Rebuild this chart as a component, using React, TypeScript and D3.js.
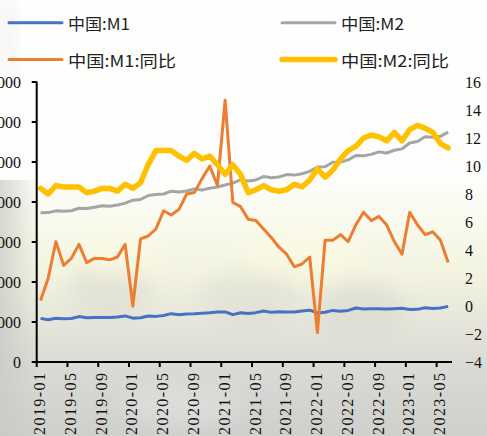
import React from 'react';
import * as d3 from 'd3';

const years = [2019, 2020, 2021, 2022, 2023];
const monthsPerYear = [12, 12, 12, 12, 6];

const m1 = [545638, 527190, 547575, 540614, 544355, 567696, 553043, 557138, 557137, 555208, 563262, 576009,
  548300, 552700, 575100, 570200, 581100, 604300, 591200, 601300, 602300, 609200, 616300, 625600,
  625600, 592200, 616100, 605400, 616800, 637500, 620500, 628500, 624500, 626100, 637500, 647400,
  613800, 621600, 645100, 633600, 645100, 674400, 661800, 664600, 664500, 662100, 667000, 671700,
  655200, 657900, 678100, 669800, 675300, 695600];

const m2 = [1865935, 1867427, 1889412, 1884670, 1891154, 1921360, 1919411, 1935492, 1952250, 1945601, 1961430, 1986489,
  2023066, 2030830, 2080923, 2093534, 2100184, 2134949, 2125458, 2136837, 2164085, 2149720, 2172003, 2186796,
  2213051, 2236030, 2276488, 2262131, 2275538, 2317788, 2302153, 2312251, 2342830, 2336160, 2353589, 2382900,
  2437400, 2441500, 2497700, 2499700, 2527000, 2581500, 2578100, 2595100, 2626600, 2612900, 2647100, 2664300,
  2738100, 2755200, 2814600, 2808500, 2820500, 2873000];

const m1yoy = [0.4, 2.0, 4.6, 2.9, 3.4, 4.4, 3.1, 3.4, 3.4, 3.3, 3.5, 4.4,
  0.0, 4.8, 5.0, 5.5, 6.8, 6.5, 6.9, 8.0, 8.1, 9.1, 10.0, 8.6,
  14.7, 7.4, 7.1, 6.2, 6.1, 5.5, 4.9, 4.2, 3.7, 2.8, 3.0, 3.5,
  -1.9, 4.7, 4.7, 5.1, 4.6, 5.8, 6.7, 6.1, 6.4, 5.8, 4.6, 3.7,
  6.7, 5.8, 5.1, 5.3, 4.7, 3.1];

const m2yoy = [8.4, 8.0, 8.6, 8.5, 8.5, 8.5, 8.1, 8.2, 8.4, 8.4, 8.2, 8.7,
  8.4, 8.8, 10.1, 11.1, 11.1, 11.1, 10.7, 10.4, 10.9, 10.5, 10.7, 10.1,
  9.4, 10.1, 9.4, 8.1, 8.3, 8.6, 8.3, 8.2, 8.3, 8.7, 8.5, 9.0,
  9.8, 9.2, 9.7, 10.5, 11.1, 11.4, 12.0, 12.2, 12.1, 11.8, 12.4, 11.8,
  12.6, 12.9, 12.7, 12.4, 11.6, 11.3];

const leftTicks = [0, 500000, 1000000, 1500000, 2000000, 2500000, 3000000, 3500000];
const rightTicks = [-4, -2, 0, 2, 4, 6, 8, 10, 12, 14, 16];

const seriesNames = ['中国:M1', '中国:M2', '中国:M1:同比', '中国:M2:同比'];
const seriesColors = ['#4472C4', '#A5A5A5', '#ED7D31', '#FFC000'];

const categories: string[] = [];
years.forEach((y, k) => {
  for (let m = 1; m <= monthsPerYear[k]; m++) categories.push(`${y}-${String(m).padStart(2, '0')}`);
});

const W = 487, H = 436;
const X0 = 36.7, X1 = 452, YB = 362, YT = 82;
const serif = '"Liberation Serif", "Times New Roman", serif';
const cjk = '"Noto Sans CJK SC", "Noto Sans", sans-serif';

export default function App() {
  const x = d3.scaleBand<string>().domain(categories).range([X0, X1]).padding(0);
  const bw = x.bandwidth();
  const cx = (i: number) => (x(categories[i]) as number) + bw / 2;
  const yL = d3.scaleLinear().domain([0, 3500000]).range([YB, YT]);
  const yR = d3.scaleLinear().domain([-4, 16]).range([YB, YT]);

  const lineL = d3.line<number>().x((_, i) => cx(i)).y(d => yL(d));
  const lineR = d3.line<number>().x((_, i) => cx(i)).y(d => yR(d));

  const tickCats = categories.filter((_, i) => i % 4 === 0);

  const legend = [
    { name: seriesNames[0], color: seriesColors[0], x: 9, y: 22.7, w: 3, tl: 62 },
    { name: seriesNames[1], color: seriesColors[1], x: 282, y: 22.7, w: 3, tl: 63 },
    { name: seriesNames[2], color: seriesColors[2], x: 9, y: 59.5, w: 3, tl: 108 },
    { name: seriesNames[3], color: seriesColors[3], x: 282, y: 59.5, w: 5.5, tl: 108 },
  ];

  return (
    <svg width={W} height={H} style={{ position: 'absolute', left: 0, top: 0 }}>
      <defs>
        <linearGradient id="bg" x1="0" y1="0" x2="0" y2="1">
          <stop offset="0" stopColor="#ffffff" />
          <stop offset="0.42" stopColor="#fdfdfb" />
          <stop offset="0.52" stopColor="#f9f9ec" />
          <stop offset="0.63" stopColor="#f3f3e0" />
          <stop offset="0.75" stopColor="#e4e4da" />
          <stop offset="0.86" stopColor="#d8d8d4" />
          <stop offset="1" stopColor="#cfcfcc" />
        </linearGradient>
        <linearGradient id="leftEdge" x1="0" y1="0" x2="1" y2="0">
          <stop offset="0" stopColor="#c8c8c4" stopOpacity="0.7" />
          <stop offset="1" stopColor="#c8c8c4" stopOpacity="0" />
        </linearGradient>
        <filter id="blur" x="-50%" y="-50%" width="200%" height="200%">
          <feGaussianBlur stdDeviation="10" />
        </filter>
      </defs>
      <rect x={0} y={0} width={W} height={H} fill="url(#bg)" />
      <rect x={0} y={180} width={40} height={H - 180} fill="url(#leftEdge)" />
      <rect x={0} y={0} width={14} height={70} fill="#e6e6e6" opacity={0.6} filter="url(#blur)" />
      <g filter="url(#blur)" opacity={0.5}>
        <ellipse cx={110} cy={290} rx={40} ry={30} fill="#d8d8cf" />
        <ellipse cx={250} cy={300} rx={50} ry={30} fill="#dcdcd2" />
        <ellipse cx={360} cy={310} rx={45} ry={28} fill="#d6d6cc" />
        <ellipse cx={120} cy={255} rx={40} ry={20} fill="#fbfbe0" />
        <ellipse cx={300} cy={255} rx={60} ry={22} fill="#fcfce0" />
        <ellipse cx={180} cy={405} rx={60} ry={20} fill="#e4e4e2" />
      </g>

      {/* legend */}
      {legend.map(l => (
        <g key={l.name}>
          <line x1={l.x} x2={l.x + 53} y1={l.y} y2={l.y} stroke={l.color} strokeWidth={l.w} strokeLinecap="round" />
          <text x={l.x + 59} y={l.y} dominantBaseline="central" fontFamily={cjk} fontSize={16} fill="#222"
            textLength={l.tl} lengthAdjust="spacingAndGlyphs">{l.name}</text>
        </g>
      ))}

      {/* series */}
      <path d={lineL(m2) || ''} fill="none" stroke={seriesColors[1]} strokeWidth={3} strokeLinejoin="round" />
      <path d={lineL(m1) || ''} fill="none" stroke={seriesColors[0]} strokeWidth={3} strokeLinejoin="round" />
      <path d={lineR(m1yoy) || ''} fill="none" stroke={seriesColors[2]} strokeWidth={3} strokeLinejoin="round" />
      <path d={lineR(m2yoy) || ''} fill="none" stroke={seriesColors[3]} strokeWidth={5.5} strokeLinejoin="round" strokeLinecap="round" />

      {/* left axis */}
      <line x1={X0} x2={X0} y1={YT - 0.5} y2={YB} stroke="#000" strokeWidth={2} />
      {leftTicks.map(t => (
        <g key={t}>
          <line x1={X0 - 5} x2={X0} y1={yL(t)} y2={yL(t)} stroke="#000" strokeWidth={2} />
          <text x={21} y={yL(t)} textAnchor="end" dominantBaseline="central" fontFamily={serif} fontSize={16} fill="#111">{t}</text>
        </g>
      ))}

      {/* right axis labels */}
      {rightTicks.map(t => (
        <text key={t} x={465} y={yR(t)} dominantBaseline="central" fontFamily={serif} fontSize={16} fill="#111">
          {t < 0 ? '\u2212' + Math.abs(t) : String(t)}
        </text>
      ))}

      {/* bottom axis */}
      <line x1={X0 - 1} x2={X1} y1={YB} y2={YB} stroke="#000" strokeWidth={2} />
      {tickCats.map(c => {
        const tx = x(c) as number;
        return (
          <g key={c}>
            <line x1={tx} x2={tx} y1={YB} y2={YB + 5} stroke="#000" strokeWidth={2} />
            <text transform={`translate(${tx + 3},${373}) rotate(-90)`} textAnchor="end" dominantBaseline="central"
              fontFamily={serif} fontSize={16} fill="#111" textLength={62} lengthAdjust="spacing">{c}</text>
          </g>
        );
      })}
    </svg>
  );
}
